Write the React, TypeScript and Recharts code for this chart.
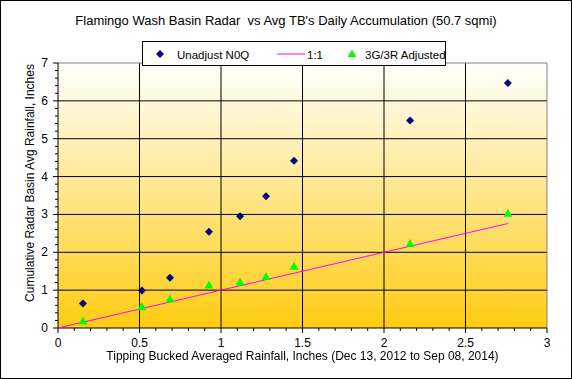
// Flamingo Wash radar vs tipping bucket scatter
import React from 'react';
import { ComposedChart, Scatter, XAxis, YAxis, CartesianGrid, Legend, ReferenceLine } from 'recharts';

const tbRain = [0.153, 0.515, 0.687, 0.926, 1.117, 1.276, 1.448, 2.16, 2.76];
const unadjustN0Q = [0.65, 0.99, 1.33, 2.54, 2.95, 3.48, 4.42, 5.48, 6.47];
const adjusted3G3R = [0.17, 0.55, 0.75, 1.12, 1.2, 1.35, 1.62, 2.22, 3.02];
const oneToOne = [0, 2.76];

// major ticks get labels, the rest are minor marks
const xMajor = [0, 0.5, 1, 1.5, 2, 2.5, 3];
const yMajor = [0, 1, 2, 3, 4, 5, 6, 7];
const xTicks = Array.from({ length: 31 }, (_, i) => i / 10);
const yTicks = Array.from({ length: 36 }, (_, i) => (i * 2) / 10);

const FONT = '"Liberation Sans", Arial, sans-serif';

const n0qData = tbRain.map((x, i) => ({ x, y: unadjustN0Q[i] }));
const adjData = tbRain.map((x, i) => ({ x, y: adjusted3G3R[i] }));
const lineData = oneToOne.map(v => ({ x: v, y: v }));

const isMajor = (list: number[], v: number) => list.some(m => Math.abs(m - v) < 1e-6);

function XTick(props: any) {
  const { x, y, payload } = props;
  const major = isMajor(xMajor, payload.value);
  return (
    <g>
      <line x1={x} y1={y} x2={x} y2={y + (major ? 5 : 3)} stroke="#000" strokeWidth={1} />
      {major ? (
        <text x={x} y={y + 19} textAnchor="middle" fill="#000" fontSize={12} fontFamily={FONT}>
          {String(payload.value)}
        </text>
      ) : null}
    </g>
  );
}

function YTick(props: any) {
  const { x, y, payload } = props;
  const major = isMajor(yMajor, payload.value);
  return (
    <g>
      <line x1={x - (major ? 5 : 3)} y1={y} x2={x} y2={y} stroke="#000" strokeWidth={1} />
      {major ? (
        <text x={x - 10} y={y + 4} textAnchor="end" fill="#000" fontSize={12} fontFamily={FONT}>
          {String(payload.value)}
        </text>
      ) : null}
    </g>
  );
}

const Diamond = ({ cx, cy }: any) => (
  <polygon points={`${cx},${cy - 4} ${cx + 4},${cy} ${cx},${cy + 4} ${cx - 4},${cy}`} fill="#000080" />
);

const Triangle = ({ cx, cy }: any) => (
  <polygon points={`${cx},${cy - 5} ${cx + 4.5},${cy + 3} ${cx - 4.5},${cy + 3}`} fill="#00FF00" />
);

const NoDot = () => null;

const LegendBox = () => (
  <div
    style={{
      width: 302,
      height: 23,
      border: '1px solid #000',
      background: '#fff',
      fontFamily: FONT,
      fontSize: 11.5,
      color: '#000',
      boxSizing: 'content-box',
    }}
  >
    <svg width={302} height={23} style={{ display: 'block' }}>
      <polygon points="17,8 21,12 17,16 13,12" fill="#000080" />
      <text x={34} y={16.5}>Unadjust N0Q</text>
      <line x1={134} y1={12} x2={162} y2={12} stroke="#FF00FF" strokeWidth={1} />
      <text x={164} y={16.5}>1:1</text>
      <polygon points="209,7.5 213.5,15 204.5,15" fill="#00FF00" />
      <text x={222} y={16.5}>3G/3R Adjusted</text>
    </svg>
  </div>
);

export default function App() {
  return (
    <div
      style={{
        position: 'fixed',
        left: 0,
        top: 0,
        width: 572,
        height: 379,
        background: '#fff',
        fontFamily: FONT,
      }}
    >
      <div
        style={{
          position: 'absolute',
          left: 0,
          top: 0,
          width: 570,
          height: 377,
          border: '1px solid #000',
        }}
      />
      <div
        style={{
          position: 'absolute',
          top: 13,
          left: 0,
          width: 572,
          textAlign: 'center',
          fontSize: 13,
          color: '#000',
        }}
      >
        Flamingo Wash Basin Radar&nbsp; vs Avg TB's Daily Accumulation (50.7 sqmi)
      </div>
      <ComposedChart
        width={572}
        height={379}
        margin={{ top: 38, right: 25, bottom: 21, left: 28 }}
        style={{ position: 'absolute', left: 0, top: 0 }}
      >
        <defs>
          <linearGradient id="plotBg" x1="0" y1="0" x2="0" y2="1">
            <stop offset="0%" stopColor="#FFFFFF" />
            <stop offset="100%" stopColor="#FFCC11" />
          </linearGradient>
        </defs>
        <CartesianGrid
          fill="url(#plotBg)"
          stroke="#000"
          strokeOpacity={1}
          horizontalValues={[1, 2, 3, 4, 5, 6]}
          verticalValues={[0.5, 1, 1.5, 2, 2.5]}
        />
        <ReferenceLine y={7} stroke="#808080" strokeWidth={1} />
        <ReferenceLine x={3} stroke="#808080" strokeWidth={1} />
        <XAxis
          type="number"
          dataKey="x"
          domain={[0, 3]}
          ticks={xTicks}
          tickSize={0}
          tickMargin={0}
          interval={0}
          axisLine={{ stroke: '#000' }}
          tickLine={false}
          tick={XTick}
          height={30}
        />
        <YAxis
          type="number"
          dataKey="y"
          domain={[0, 7]}
          ticks={yTicks}
          tickSize={0}
          tickMargin={0}
          interval={0}
          axisLine={{ stroke: '#000' }}
          tickLine={false}
          tick={YTick}
          width={30}
        />
        <Legend
          verticalAlign="top"
          content={<LegendBox />}
          wrapperStyle={{ position: 'absolute', top: 41, left: 142, width: 304 }}
        />
        <Scatter
          name="1:1"
          data={lineData}
          line={{ stroke: '#FF00FF', strokeWidth: 1 }}
          shape={<NoDot />}
          isAnimationActive={false}
        />
        <Scatter
          name="Unadjust N0Q"
          data={n0qData}
          shape={<Diamond />}
          isAnimationActive={false}
        />
        <Scatter
          name="3G/3R Adjusted"
          data={adjData}
          shape={<Triangle />}
          isAnimationActive={false}
        />
      </ComposedChart>
      <div
        style={{
          position: 'absolute',
          left: 30 - 150,
          top: 183 - 8,
          width: 300,
          height: 16,
          lineHeight: '16px',
          textAlign: 'center',
          whiteSpace: 'nowrap',
          fontSize: 12,
          color: '#000',
          transform: 'rotate(-90deg)',
          transformOrigin: '150px 8px',
        }}
      >
        Cumulative Radar Basin Avg Rainfall, Inches
      </div>
      <div
        style={{
          position: 'absolute',
          left: 0,
          top: 349,
          width: 605,
          textAlign: 'center',
          whiteSpace: 'nowrap',
          fontSize: 12,
          color: '#000',
        }}
      >
        Tipping Bucked Averaged Rainfall, Inches (Dec 13, 2012 to Sep 08, 2014)
      </div>
    </div>
  );
}
